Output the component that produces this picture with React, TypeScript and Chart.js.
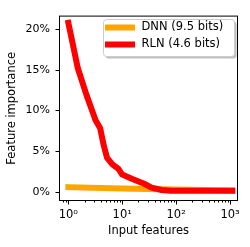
import React, { useEffect, useRef } from 'react';
import { Chart, registerables } from 'chart.js';

Chart.register(...registerables);

const dnnLabel = 'DNN (9.5 bits)';
const rlnLabel = 'RLN (4.6 bits)';
const dnnColor = '#FFA500';
const rlnColor = '#FF0000';

const dnnX = [1, 10, 100, 1100];
const dnnY = [0.55, 0.38, 0.25, 0.15];

const rlnX = [1, 1.5, 2.2, 2.9, 3.2, 3.9, 4.5, 5.2, 6.5, 8.5, 10, 15, 25, 35, 54, 80, 1100];
const rlnY = [20.8, 15.2, 11.8, 9.6, 8.8, 7.8, 5.8, 4.2, 3.4, 2.8, 2.1, 1.6, 1.0, 0.5, 0.2, 0.1, 0.1];

const yTickValues = [0, 5, 10, 15, 20];
const xMajorTicks = [1, 10, 100, 1000];
const xMinorMultipliers = [2, 3, 4, 5, 6, 7, 8, 9];

const FONT = 'DejaVu Sans';
const superDigits: Record<string, string> = {
  '0': '\u2070', '1': '\u00B9', '2': '\u00B2', '3': '\u00B3', '4': '\u2074',
  '5': '\u2075', '6': '\u2076', '7': '\u2077', '8': '\u2078', '9': '\u2079',
};

const X_MIN = 0.711;
const X_MAX = 1348;
const Y_MIN = -1.03;
const Y_MAX = 21.57;

function isPow10(v: number) {
  const l = Math.log10(v);
  return Math.abs(l - Math.round(l)) < 1e-9;
}

const decorPlugin = {
  id: 'decor',
  afterDatasetsDraw(chart: any) {
    const { ctx, chartArea: a, scales } = chart;
    ctx.save();
    ctx.strokeStyle = '#000';
    ctx.lineWidth = 1;
    ctx.strokeRect(a.left - 0.5, a.top - 0.5, a.right - a.left + 1, a.bottom - a.top + 1);
    // x ticks
    const xs = scales.x;
    xs.ticks.forEach((t: any) => {
      const px = Math.round(xs.getPixelForValue(t.value)) + 0.5;
      const len = t.major ? 4 : 2;
      ctx.beginPath();
      ctx.moveTo(px, a.bottom + 0.5);
      ctx.lineTo(px, a.bottom + 0.5 + len);
      ctx.stroke();
    });
    const ys = scales.y;
    ys.ticks.forEach((t: any) => {
      const py = Math.round(ys.getPixelForValue(t.value)) + 0.5;
      ctx.beginPath();
      ctx.moveTo(a.left - 0.5, py);
      ctx.lineTo(a.left - 0.5 - 4, py);
      ctx.stroke();
    });
    ctx.restore();
  },
  afterDraw(chart: any) {
    const { ctx } = chart;
    const items = chart.data.datasets
      .map((d: any) => ({ label: d.label, color: d.borderColor, idx: d.legendIndex }))
      .sort((p: any, q: any) => p.idx - q.idx);
    const bx = 103.5, by = 19.5, bw = 131, bh = 37, r = 3;
    const rr = (x: number, y: number) => {
      ctx.beginPath();
      ctx.moveTo(x + r, y);
      ctx.lineTo(x + bw - r, y);
      ctx.arcTo(x + bw, y, x + bw, y + r, r);
      ctx.lineTo(x + bw, y + bh - r);
      ctx.arcTo(x + bw, y + bh, x + bw - r, y + bh, r);
      ctx.lineTo(x + r, y + bh);
      ctx.arcTo(x, y + bh, x, y + bh - r, r);
      ctx.lineTo(x, y + r);
      ctx.arcTo(x, y, x + r, y, r);
      ctx.closePath();
    };
    ctx.save();
    rr(bx + 2, by + 2);
    ctx.fillStyle = 'rgba(128,128,128,0.5)';
    ctx.fill();
    rr(bx, by);
    ctx.fillStyle = '#ffffff';
    ctx.fill();
    ctx.strokeStyle = '#cccccc';
    ctx.lineWidth = 1;
    ctx.stroke();
    ctx.font = `11.5px "${FONT}"`;
    ctx.textBaseline = 'middle';
    ctx.textAlign = 'left';
    items.forEach((it: any, i: number) => {
      const cy = 27.5 + i * 17;
      ctx.strokeStyle = it.color;
      ctx.lineWidth = 6;
      ctx.lineCap = 'butt';
      ctx.beginPath();
      ctx.moveTo(105, cy);
      ctx.lineTo(135, cy);
      ctx.stroke();
      ctx.fillStyle = '#000';
      ctx.fillText(it.label, 141.5, cy);
    });
    ctx.restore();
  },
};

export default function App() {
  const ref = useRef<HTMLCanvasElement>(null);
  useEffect(() => {
    document.body.style.margin = '0';
    const canvas = ref.current;
    if (!canvas) return;
    const chart = new Chart(canvas, {
      type: 'line',
      data: {
        datasets: [
          {
            label: dnnLabel,
            legendIndex: 0,
            data: dnnX.map((x, i) => ({ x, y: dnnY[i] })),
            borderColor: dnnColor,
            backgroundColor: dnnColor,
            borderWidth: 6,
            pointRadius: 0,
            tension: 0,
            borderCapStyle: 'square',
            borderJoinStyle: 'round',
            order: 1,
          } as any,
          {
            label: rlnLabel,
            legendIndex: 1,
            data: rlnX.map((x, i) => ({ x, y: rlnY[i] })),
            borderColor: rlnColor,
            backgroundColor: rlnColor,
            borderWidth: 6,
            pointRadius: 0,
            tension: 0,
            borderCapStyle: 'square',
            borderJoinStyle: 'round',
            order: 0,
          } as any,
        ],
      },
      options: {
        responsive: false,
        animation: false,
        devicePixelRatio: 1,
        layout: { padding: { top: 13, right: 13, left: 0, bottom: 0 } },
        plugins: { legend: { display: false }, tooltip: { enabled: false } },
        scales: {
          x: {
            type: 'logarithmic',
            min: X_MIN,
            max: X_MAX,
            grid: { display: false, drawTicks: false },
            border: { display: false },
            afterBuildTicks: (scale: any) => {
              const ticks: any[] = [];
              [0.1, 1, 10, 100, 1000].forEach((base) => {
                if (base >= X_MIN && base <= X_MAX) ticks.push({ value: base, major: true });
                xMinorMultipliers.forEach((m) => {
                  const v = m * base;
                  if (v >= X_MIN && v <= X_MAX) ticks.push({ value: v, major: false });
                });
              });
              ticks.sort((p, q) => p.value - q.value);
              scale.ticks = ticks;
            },
            afterFit: (scale: any) => { scale.height = 47; },
            ticks: {
              autoSkip: false,
              maxRotation: 0,
              padding: 8.5,
              color: '#000',
              font: { family: FONT, size: 11.5 },
              callback: (v: any) => {
                const n = Number(v);
                if (!xMajorTicks.includes(n) || !isPow10(n)) return '';
                const e = String(Math.round(Math.log10(n)));
                return '10' + e.split('').map((c) => superDigits[c]).join('');
              },
            },
            title: {
              display: true,
              text: 'Input features',
              color: '#000',
              font: { family: FONT, size: 11.5 },
              padding: { top: 0, bottom: 9 },
            },
          },
          y: {
            min: Y_MIN,
            max: Y_MAX,
            grid: { display: false, drawTicks: false },
            border: { display: false },
            afterBuildTicks: (scale: any) => {
              scale.ticks = yTickValues.map((v) => ({ value: v }));
            },
            afterFit: (scale: any) => { scale.width = 60; },
            ticks: {
              padding: 10,
              color: '#000',
              font: { family: FONT, size: 11 },
              callback: (v: any) => `${v}%`,
            },
            title: {
              display: true,
              text: 'Feature importance',
              color: '#000',
              font: { family: FONT, size: 11.5 },
              padding: { top: 5.5, bottom: 0 },
            },
          },
        },
      },
      plugins: [decorPlugin],
    });
    return () => chart.destroy();
  }, []);
  return (
    <div style={{ width: 250, height: 247 }}>
      <canvas ref={ref} width={250} height={247} style={{ display: 'block' }} />
    </div>
  );
}
